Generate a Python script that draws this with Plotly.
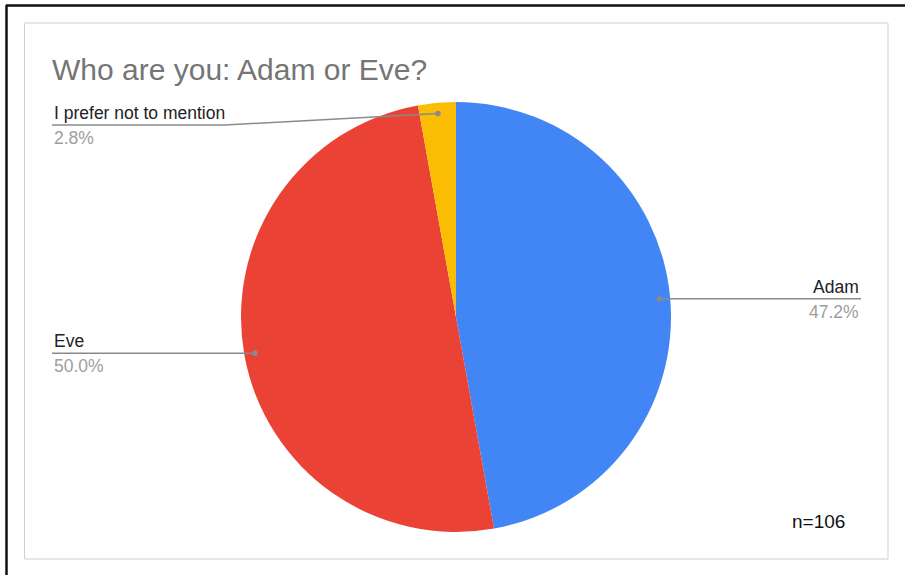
import math
import plotly.graph_objects as go

# ---- data ----
labels = ["Adam", "Eve", "I prefer not to mention"]
values = [50, 53, 3]
colors = ["#4285F4", "#EA4335", "#FBBC04"]
title_text = "Who are you: Adam or Eve?"
note_text = "n=106"

W, H = 905, 575
CX, CY, R = 456, 317, 215  # pie centre / radius in pixels


def px(x):
    return x / W


def py(y):
    return 1 - y / H


fig = go.Figure()
fig.add_trace(go.Pie(
    labels=labels, values=values, sort=False, direction="clockwise", rotation=0,
    marker=dict(colors=colors, line=dict(width=0)),
    textinfo="none", hoverinfo="label+percent", showlegend=False,
    domain=dict(x=[px(CX - R), px(CX + R)], y=[py(CY + R), py(CY - R)]),
))

shapes = []
annotations = []

# outer frame (black) and inner chart border (light gray)
shapes.append(dict(type="line", xref="paper", yref="paper", x0=px(6), x1=px(905), y0=py(5.5), y1=py(5.5),
                   line=dict(color="#111", width=2.5)))
shapes.append(dict(type="line", xref="paper", yref="paper", x0=px(6.5), x1=px(6.5), y0=py(5), y1=py(575),
                   line=dict(color="#111", width=2.5)))
shapes.append(dict(type="rect", xref="paper", yref="paper", x0=px(24.5), x1=px(888), y0=py(23), y1=py(559),
                   line=dict(color="#cfcfcf", width=1)))

total = sum(values)
cum = 0
LEFT_X, RIGHT_X = 52, 861
MIN_LINE_Y = 125
FONT = "Liberation Sans, Arial"
for lab, v in zip(labels, values):
    mid = (cum + v / 2) / total * 2 * math.pi
    cum += v
    dx = CX + 0.95 * R * math.sin(mid)
    dy = CY - 0.95 * R * math.cos(mid)
    pct = f"{100 * v / total:.1f}%"
    line_y = max(dy, MIN_LINE_Y)
    if math.sin(mid) >= 0:
        end_x = RIGHT_X
        anchor = "right"
        pts = [(dx, dy), (end_x, line_y)]
    else:
        end_x = LEFT_X
        anchor = "left"
        if abs(line_y - dy) > 1:
            pts = [(dx, dy), (225, line_y), (end_x, line_y)]
        else:
            pts = [(dx, dy), (end_x, line_y)]
    for (x0, y0), (x1, y1) in zip(pts[:-1], pts[1:]):
        shapes.append(dict(type="line", xref="paper", yref="paper", x0=px(x0), y0=py(y0), x1=px(x1), y1=py(y1),
                           line=dict(color="#8a8a8a", width=1.5)))
    rr = 2.8
    shapes.append(dict(type="circle", xref="paper", yref="paper", x0=px(dx - rr), x1=px(dx + rr),
                       y0=py(dy + rr), y1=py(dy - rr), fillcolor="#8a8a8a", line=dict(width=0)))
    annotations.append(dict(text=lab, x=px(end_x), y=py(line_y - 12), xref="paper", yref="paper",
                            xanchor=anchor, yanchor="middle", showarrow=False,
                            font=dict(family=FONT, size=17.5, color="#222222")))
    annotations.append(dict(text=pct, x=px(end_x), y=py(line_y + 13), xref="paper", yref="paper",
                            xanchor=anchor, yanchor="middle", showarrow=False,
                            font=dict(family=FONT, size=17.5, color="#9e9e9e")))

annotations.append(dict(text=title_text, x=px(50), y=py(69), xref="paper", yref="paper",
                        xanchor="left", yanchor="middle", showarrow=False,
                        font=dict(family=FONT, size=30, color="#757575")))
annotations.append(dict(text=note_text, x=px(818), y=py(521), xref="paper", yref="paper",
                        xanchor="center", yanchor="middle", showarrow=False,
                        font=dict(family=FONT, size=19, color="#111111")))

fig.update_layout(width=W, height=H, margin=dict(l=0, r=0, t=0, b=0),
                  paper_bgcolor="white", plot_bgcolor="white",
                  shapes=shapes, annotations=annotations)
fig.write_html("out.html", config={"displayModeBar": False},
               post_script="document.body.style.margin='0';")
